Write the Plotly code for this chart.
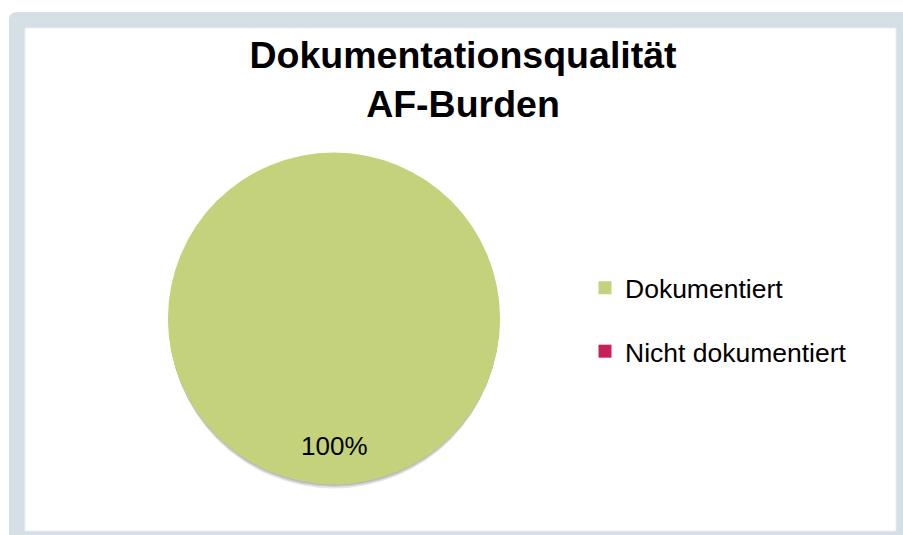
import plotly.graph_objects as go

# ---- data ----
categories = ["Dokumentiert", "Nicht dokumentiert"]
values = [100, 0]
colors = ["#C4D37B", "#C8215A"]
title_lines = ["Dokumentationsqualität", "AF-Burden"]

W, H = 903, 535
FONT = "Liberation Sans, Arial, sans-serif"

# pie geometry (pixels)
cx, cy, r = 334, 318.5, 166
dom_x = [(cx - r) / W, (cx + r) / W]
dom_y = [(H - cy - r) / H, (H - cy + r) / H]

fig = go.Figure()

fig.add_trace(go.Pie(
    labels=categories,
    values=values,
    marker=dict(colors=colors, line=dict(width=0)),
    sort=False,
    direction="clockwise",
    rotation=0,
    textinfo="none",
    showlegend=False,
    domain=dict(x=dom_x, y=dom_y),
    hoverinfo="label+percent",
))

# legend entries (one per category)
for lab, col in zip(categories, colors):
    fig.add_trace(go.Scatter(
        x=[None], y=[None], mode="markers", name=lab, legendgroup=lab,
        marker=dict(symbol="square", size=13, color=col, line=dict(width=0)),
        hoverinfo="skip",
    ))

# percentage label of the largest slice, placed at the slice's mid-angle (bottom)
total = sum(values)
pct = round(100 * values[0] / total)
label_r = 0.77 * r
fig.add_annotation(
    x=cx / W, y=(H - (cy + label_r)) / H, xref="paper", yref="paper",
    text=f"{pct}%", showarrow=False,
    font=dict(family=FONT, size=26, color="#000000"),
    xanchor="center", yanchor="middle",
)

shapes = []
# outer frame with rounded top-left corner
x0, y0, x1, y1 = 9 / W, 1 - 12 / H, 1.0, 0.0
rad = 8
shapes.append(dict(
    type="path", xref="paper", yref="paper", layer="below",
    path=(f"M {x0} {y1} L {x0} {y0 - rad / H} Q {x0} {y0} {x0 + rad / W} {y0} "
          f"L {x1} {y0} L {x1} {y1} Z"),
    fillcolor="#D5DFE6", line=dict(width=0),
))
# inner white panel
shapes.append(dict(
    type="rect", xref="paper", yref="paper", layer="below",
    x0=25 / W, x1=896 / W, y0=1 - 531 / H, y1=1 - 28 / H,
    fillcolor="#FFFFFF", line=dict(width=1, color="#E8EEF2"),
))
# soft shadow under pie
for off, col in [(4, "#E6E6E6"), (2.5, "#CFCFCF"), (1.2, "#B8B8B8")]:
    shapes.append(dict(
        type="circle", xref="paper", yref="paper", layer="below",
        x0=(cx - r + off * 0.3) / W, x1=(cx + r - off * 0.3) / W,
        y0=(H - (cy + r + off)) / H, y1=(H - (cy - r + off)) / H,
        fillcolor=col, line=dict(width=0),
    ))

fig.update_layout(
    width=W, height=H,
    margin=dict(l=0, r=0, t=0, b=0),
    paper_bgcolor="#FFFFFF",
    plot_bgcolor="rgba(0,0,0,0)",
    shapes=shapes,
    title=dict(
        text="<b>" + "<br>".join(title_lines) + "</b>",
        x=463 / W, xanchor="center",
        y=1 - 68 / H, yanchor="top", yref="container",
        font=dict(family=FONT, size=37.5, color="#000000"),
    ),
    legend=dict(
        x=585 / W, y=1 - 264 / H, xanchor="left", yanchor="top",
        font=dict(family=FONT, size=26.5, color="#000000"),
        tracegroupgap=26, traceorder="grouped",
        bgcolor="rgba(0,0,0,0)",
    ),
    xaxis=dict(visible=False, domain=[0, 0.01]),
    yaxis=dict(visible=False, domain=[0, 0.01]),
    showlegend=True,
)

fig.write_html(
    "out.html",
    config={"displayModeBar": False},
    post_script="document.body.style.margin='0px';document.body.style.overflow='hidden';",
)
